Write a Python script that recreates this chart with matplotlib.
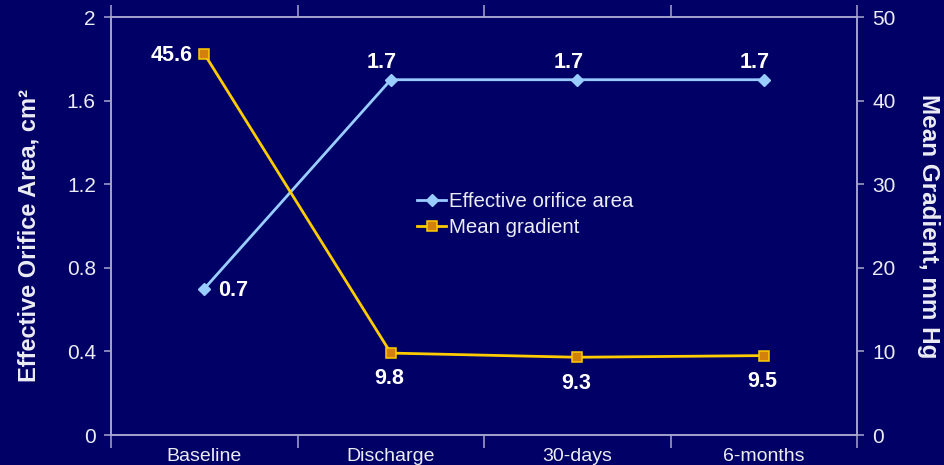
import matplotlib
matplotlib.use("Agg")
import matplotlib.pyplot as plt
from matplotlib.ticker import FixedLocator, NullFormatter, FixedFormatter

plt.rcParams['font.family'] = ['Liberation Sans', 'DejaVu Sans']

categories = ["Baseline", "Discharge", "30-days", "6-months"]
eoa = [0.7, 1.7, 1.7, 1.7]
gradient = [45.6, 9.8, 9.3, 9.5]
eoa_ticks = [0, 0.4, 0.8, 1.2, 1.6, 2]
eoa_tick_labels = ["0", "0.4", "0.8", "1.2", "1.6", "2"]
grad_ticks = [0, 10, 20, 30, 40, 50]

BG = "#000066"
AXIS = "#a8a8d0"
TEXT = "#ececf4"
EOA_COLOR = "#99ccff"
GRAD_LINE = "#ffcc00"
GRAD_FACE = "#d4800c"

fig = plt.figure(figsize=(9.45, 4.65), dpi=100, facecolor=BG)
ax = fig.add_axes([0.1175, 0.0645, 0.907 - 0.1175, 0.9634 - 0.0645])
ax.set_facecolor(BG)
ax2 = ax.twinx()

x = list(range(len(categories)))
boundaries = [i - 0.5 for i in range(len(categories) + 1)]

ln1, = ax.plot(x, eoa, color=EOA_COLOR, lw=2, marker="D", ms=6,
               mfc=EOA_COLOR, mec=EOA_COLOR, label="Effective orifice area", zorder=3)
ln2, = ax2.plot(x, gradient, color=GRAD_LINE, lw=2, marker="s", ms=7.5,
                mfc=GRAD_FACE, mec=GRAD_LINE, mew=1.1, label="Mean gradient", zorder=3)

ax.set_xlim(-0.5, len(categories) - 0.5)
ax.set_ylim(0, 2)
ax2.set_ylim(0, 50)

# category boundaries carry the tick marks, centres carry the labels
ax.xaxis.set_major_locator(FixedLocator(boundaries))
ax.xaxis.set_major_formatter(NullFormatter())
ax.xaxis.set_minor_locator(FixedLocator(x))
ax.xaxis.set_minor_formatter(FixedFormatter(categories))
ax.tick_params(axis="x", which="major", direction="out", length=9, width=1.1,
               color=AXIS, top=True, bottom=True)
ax.tick_params(axis="x", which="minor", length=0, pad=9, labelsize=14, labelcolor=TEXT)

ax.set_yticks(eoa_ticks)
ax.set_yticklabels(eoa_tick_labels)
ax.tick_params(axis="y", direction="out", length=5, width=1.1, color=AXIS,
               labelsize=15, labelcolor=TEXT, pad=6)
ax2.set_yticks(grad_ticks)
ax2.tick_params(axis="y", direction="out", length=5, width=1.1, color=AXIS,
                labelsize=15, labelcolor=TEXT, pad=6)

for a in (ax, ax2):
    for s in a.spines.values():
        s.set_color(AXIS)
        s.set_linewidth(1.1)

ax.set_ylabel("Effective Orifice Area, cm²", fontsize=17, fontweight="bold",
              color=TEXT)
ax.yaxis.set_label_coords(-0.094, 0.478)
ax2.set_ylabel("Mean Gradient, mm Hg", fontsize=17.5, fontweight="bold",
               color=TEXT, rotation=270, labelpad=32)

# value labels
lab = dict(color="white", fontsize=15.5, fontweight="bold")
ax.annotate(f"{eoa[0]}", (x[0], eoa[0]), xytext=(10, -1), textcoords="offset points",
            ha="left", va="center", **lab)
for i in range(1, len(x)):
    ax.annotate(f"{eoa[i]}", (x[i], eoa[i]), xytext=(-6.5, 5), textcoords="offset points",
                ha="center", va="bottom", **lab)
ax2.annotate(f"{gradient[0]}", (x[0], gradient[0]), xytext=(-8.5, -1), textcoords="offset points",
             ha="right", va="center", **lab)
for i in range(1, len(x)):
    ax2.annotate(f"{gradient[i]}", (x[i], gradient[i]), xytext=(-1, -11), textcoords="offset points",
                 ha="center", va="top", **lab)

leg = fig.legend(handles=[ln1, ln2], loc="upper left", bbox_to_anchor=(0.426, 0.618),
                 frameon=False, fontsize=14.7, handlelength=1.45, handletextpad=0.1,
                 labelspacing=0.35, labelcolor=TEXT, borderpad=0.2)

fig.savefig("out.png", dpi=100, facecolor=BG)
